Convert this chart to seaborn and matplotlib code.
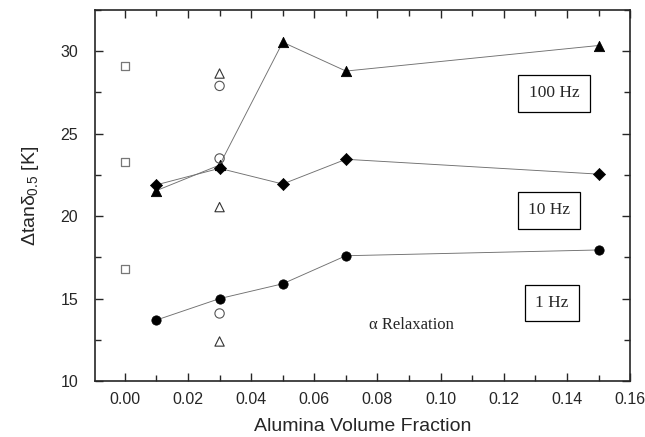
import matplotlib
matplotlib.use("Agg")
import matplotlib.pyplot as plt
import seaborn as sns
import pandas as pd
from matplotlib.ticker import MultipleLocator

sns.set_style("ticks")
plt.rcParams['font.family'] = ['Liberation Sans', 'DejaVu Sans']
plt.rcParams['mathtext.fontset'] = 'custom'
plt.rcParams['mathtext.rm'] = 'Liberation Sans'
plt.rcParams['mathtext.it'] = 'Liberation Sans'

# filled series (composites)
x_filled = [0.01, 0.03, 0.05, 0.07, 0.15]
hz1 = [13.7, 15.0, 15.9, 17.6, 17.95]
hz10 = [21.9, 22.9, 21.95, 23.45, 22.55]
hz100 = [21.55, 23.1, 30.55, 28.8, 30.35]

# open symbols
sq_x = [0.0, 0.0, 0.0]
sq_y = [29.1, 23.3, 16.8]
otri_x = [0.03, 0.03, 0.03]
otri_y = [28.65, 20.55, 12.4]
ocirc_x = [0.03, 0.03, 0.03]
ocirc_y = [27.9, 23.5, 14.1]

fig = plt.figure(figsize=(6.45, 4.37), dpi=100)
ax = fig.add_axes([0.147, 0.128, 0.83, 0.849])

line_kw = dict(color='#707070', linewidth=0.65, legend=False)
for ys in (hz1, hz10, hz100):
    sns.lineplot(x=x_filled, y=ys, ax=ax, **line_kw)

sns.scatterplot(x=x_filled, y=hz100, marker='^', s=55, color='black', edgecolor='black', ax=ax, zorder=3)
sns.scatterplot(x=x_filled, y=hz10, marker='D', s=38, color='black', edgecolor='black', ax=ax, zorder=3)
sns.scatterplot(x=x_filled, y=hz1, marker='o', s=45, color='black', edgecolor='black', ax=ax, zorder=4)

sns.scatterplot(x=sq_x, y=sq_y, marker='s', s=30, facecolor='none', edgecolor='#777777', linewidth=0.9, ax=ax, zorder=3)
sns.scatterplot(x=otri_x, y=otri_y, marker='^', s=45, facecolor='none', edgecolor='#333333', linewidth=0.8, ax=ax, zorder=3)
sns.scatterplot(x=ocirc_x, y=ocirc_y, marker='o', s=45, facecolor='none', edgecolor='#555555', linewidth=0.8, ax=ax, zorder=3)

ax.set_xlim(-0.0095, 0.16)
ax.set_ylim(10, 32.5)
ax.xaxis.set_major_locator(MultipleLocator(0.02))
ax.xaxis.set_minor_locator(MultipleLocator(0.01))
ax.yaxis.set_major_locator(MultipleLocator(5))
ax.yaxis.set_minor_locator(MultipleLocator(2.5))
ax.xaxis.set_major_formatter(matplotlib.ticker.FormatStrFormatter('%.2f'))
ax.tick_params(which='both', direction='in', top=True, right=True, labelsize=11.5)
ax.tick_params(axis='x', which='major', pad=8)
ax.tick_params(axis='y', which='major', pad=12)
ax.tick_params(which='major', length=6, width=1)
ax.tick_params(which='minor', length=4, width=1)
for sp in ax.spines.values():
    sp.set_linewidth(1.2)
    sp.set_visible(True)

ax.set_xlabel('Alumina Volume Fraction', fontsize=14, labelpad=8)
ax.set_ylabel(r'$\Delta$tan$\delta_{0.5}$ [K]', fontsize=14, labelpad=14)

box = dict(boxstyle='square,pad=0.6', facecolor='white', edgecolor='black', linewidth=0.9)
serif = ['Liberation Serif', 'DejaVu Serif']
ax.text(0.1359, 27.45, '100 Hz', fontsize=12.5, family=serif, ha='center', va='center', bbox=box)
ax.text(0.1343, 20.36, '10 Hz', fontsize=12.5, family=serif, ha='center', va='center', bbox=box)
ax.text(0.1352, 14.73, '1 Hz', fontsize=12.5, family=serif, ha='center', va='center', bbox=box)
ax.text(0.0908, 13.39, 'α Relaxation', fontsize=12, family=serif, ha='center', va='center')

fig.savefig('out.png', dpi=100)
